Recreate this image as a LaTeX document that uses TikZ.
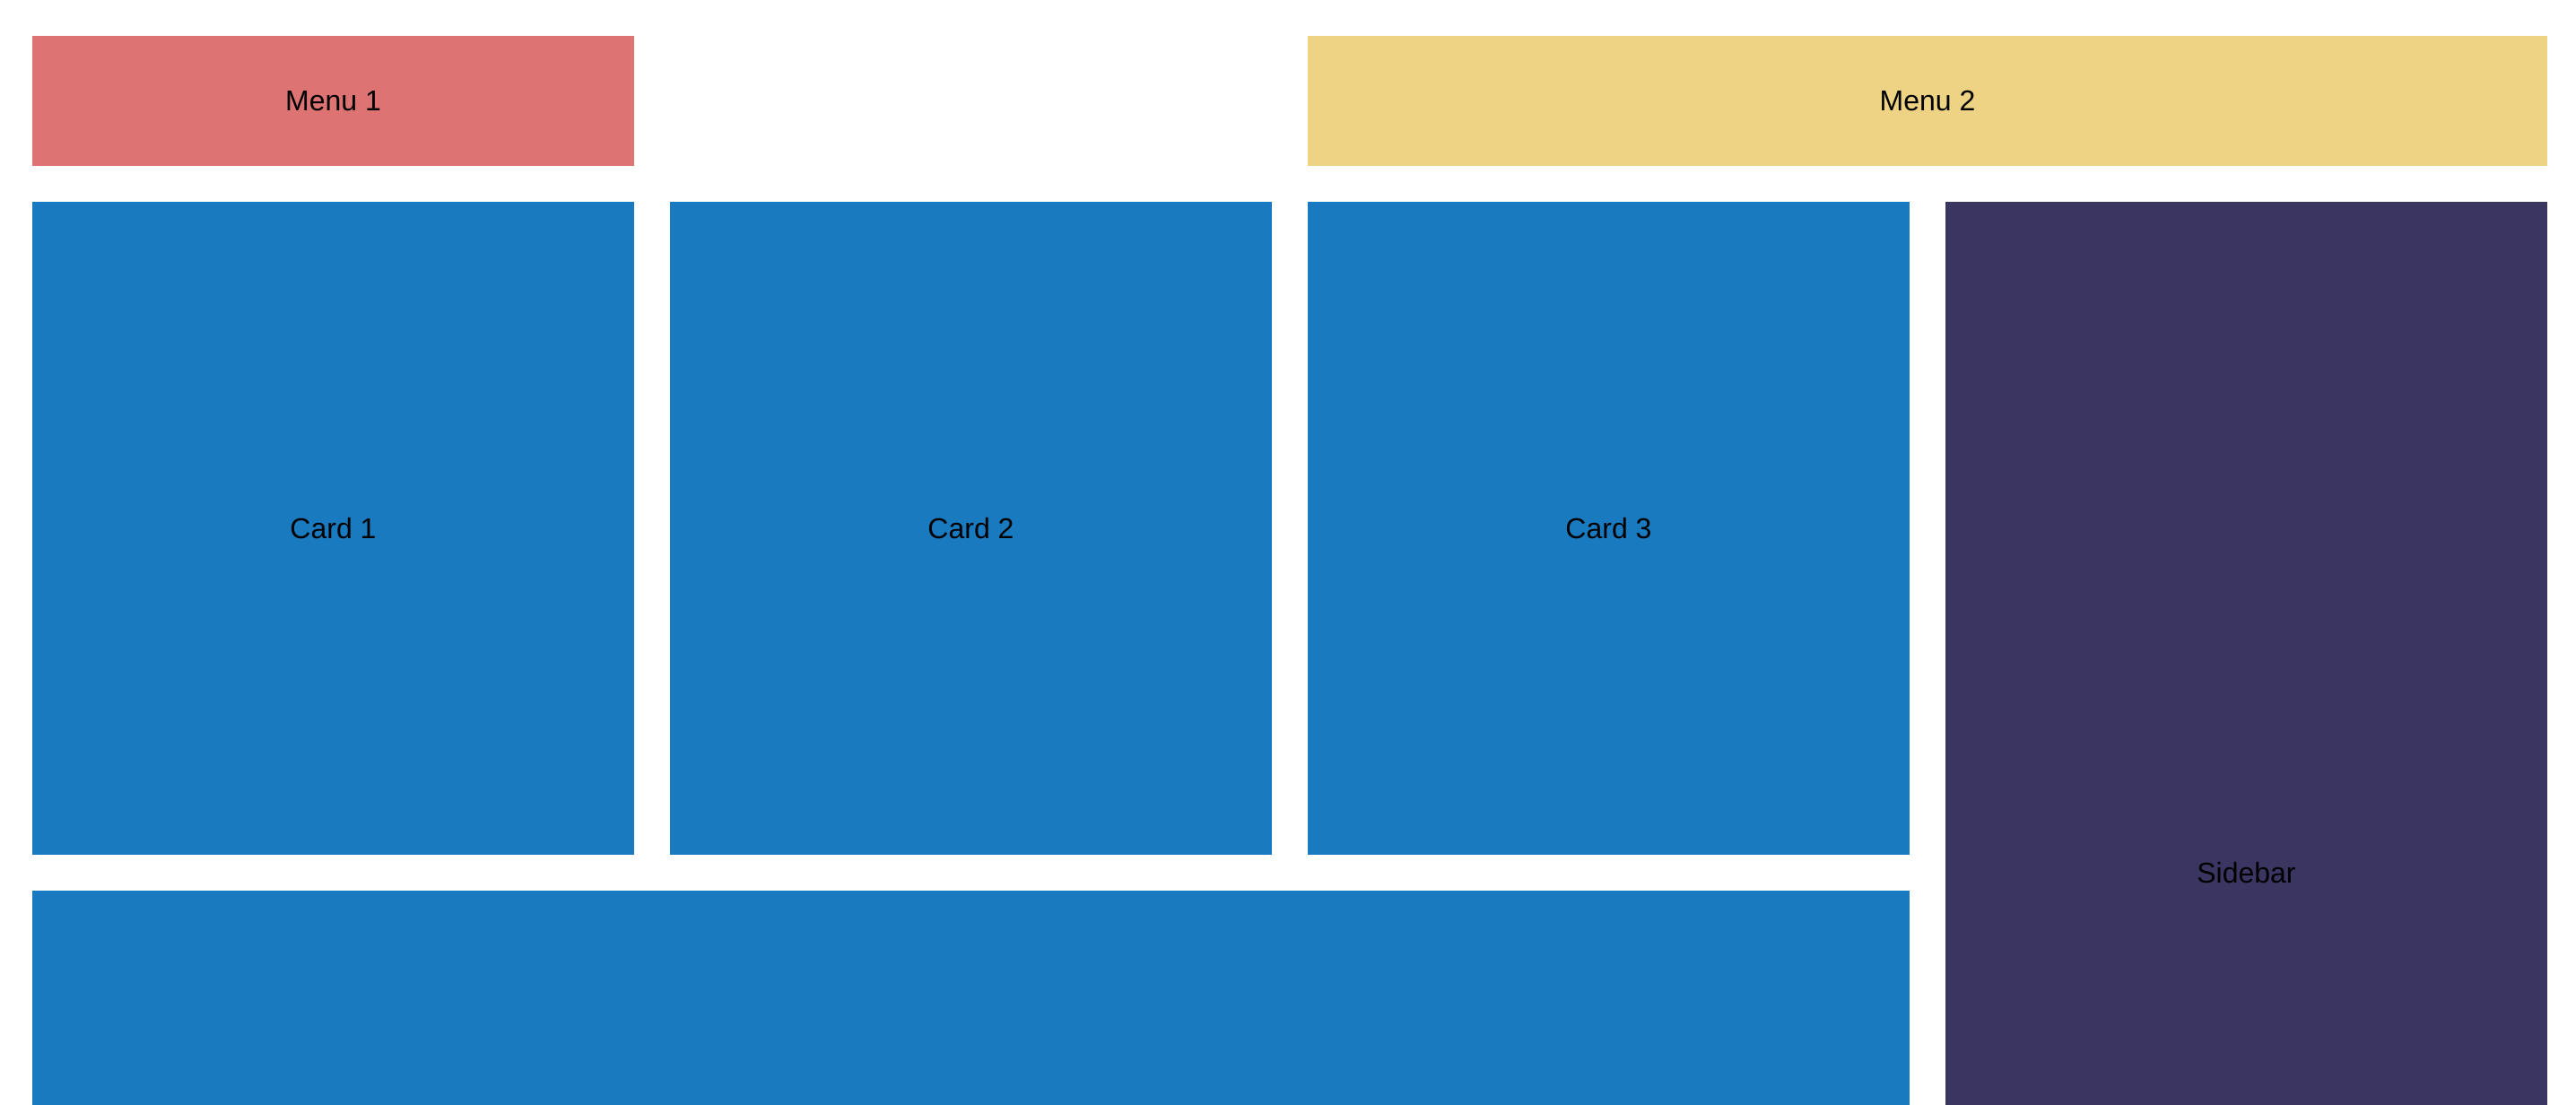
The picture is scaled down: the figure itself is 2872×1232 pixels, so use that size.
\documentclass[tikz,border=0pt]{standalone}
\usepackage{fontspec}
\setmainfont{Liberation Sans}
\definecolor{menuone}{HTML}{DD7373}
\definecolor{menutwo}{HTML}{EED384}
\definecolor{cardblue}{HTML}{1A7ABF}
\definecolor{sidepurple}{HTML}{3B3561}
\begin{document}
\begin{tikzpicture}[x=0.5pt,y=-0.5pt,
  box/.style={rectangle, draw=none, inner sep=0pt, text=black,
    font=\fontsize{16}{19}\selectfont},
  menubox/.style={box, minimum height=72.5pt},
  cardbox/.style={box, fill=cardblue, minimum width=335.5pt, minimum height=364pt}]
\useasboundingbox (0,0) rectangle (2872,1232);
\clip (0,0) rectangle (2872,1232);
\node[menubox, fill=menuone, minimum width=335.5pt] (menu1) at (371.5,112.5) {Menu 1};
\node[menubox, fill=menutwo, minimum width=691pt] (menu2) at (2149,112.5) {Menu 2};
\node[cardbox] (card1) at (371.5,589) {Card 1};
\node[cardbox] (card2) at (1082.5,589) {Card 2};
\node[cardbox] (card3) at (1793.5,589) {Card 3};
\node[box, fill=sidepurple, minimum width=335.5pt, minimum height=748pt] (sidebar) at (2504.5,973) {Sidebar};
\node[box, fill=cardblue, minimum width=1046.5pt, minimum height=364pt] (bottom) at (1082.5,1357) {};
\end{tikzpicture}
\end{document}
